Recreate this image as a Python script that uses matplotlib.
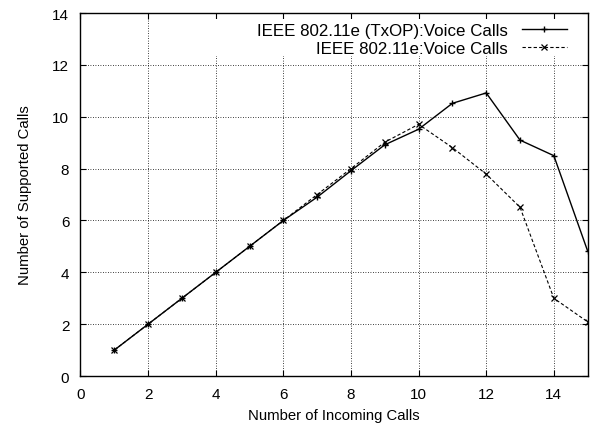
import matplotlib
matplotlib.use("Agg")
import matplotlib.pyplot as plt
from matplotlib.patches import Rectangle

plt.rcParams['font.family'] = ['Liberation Sans', 'DejaVu Sans']

incoming = [1, 2, 3, 4, 5, 6, 7, 8, 9, 10, 11, 12, 13, 14, 15]
txop_calls = [1, 2, 3, 4, 5, 6, 6.9, 7.92, 8.92, 9.52, 10.52, 10.92, 9.1, 8.5, 4.82]
edca_calls = [1, 2, 3, 4, 5, 6, 7.0, 8.0, 9.02, 9.71, 8.81, 7.79, 6.51, 3.0, 2.09]

fig = plt.figure(figsize=(5.96, 4.27), dpi=100)
ax = fig.add_axes([0.135, 0.117, 0.851, 0.850])
ax.set_axisbelow(True)

ax.plot(incoming, txop_calls, color='black', linestyle='-', linewidth=1.0,
        marker='+', markersize=5, markeredgewidth=1.0,
        label='IEEE 802.11e (TxOP):Voice Calls')
ax.plot(incoming, edca_calls, color='black', linestyle=(0, (3, 2)), linewidth=0.8,
        marker='x', markersize=4, markeredgewidth=0.9,
        label='IEEE 802.11e:Voice Calls')

ax.set_xlim(0, 15)
ax.set_ylim(0, 14)
ax.set_xticks(range(0, 15, 2))
ax.set_yticks(range(0, 15, 2))
ax.grid(True, linestyle=(0, (1, 2)), color='black', linewidth=0.6)
ax.tick_params(direction='in', top=True, right=True, length=4, labelsize=11, pad=8)
for s in ax.spines.values():
    s.set_linewidth(1.0)

# blank key area over the grid (top ticks stay visible)
ax.add_patch(Rectangle((0.196, 0.8815), 0.804, 0.103, transform=ax.transAxes,
                       facecolor='white', edgecolor='none', zorder=1))

ax.set_xlabel('Number of Incoming Calls', fontsize=10.7, labelpad=5)
ax.set_ylabel('Number of Supported Calls', fontsize=10.7, labelpad=15)

leg = ax.legend(loc='upper right', bbox_to_anchor=(0.96, 0.972), frameon=False,
                markerfirst=False, fontsize=12.2, handlelength=2.7,
                borderaxespad=0, borderpad=0, labelspacing=0.15,
                handletextpad=0.8)
for t in leg.get_texts():
    t.set_ha('right')

fig.savefig('out.png', dpi=100)
